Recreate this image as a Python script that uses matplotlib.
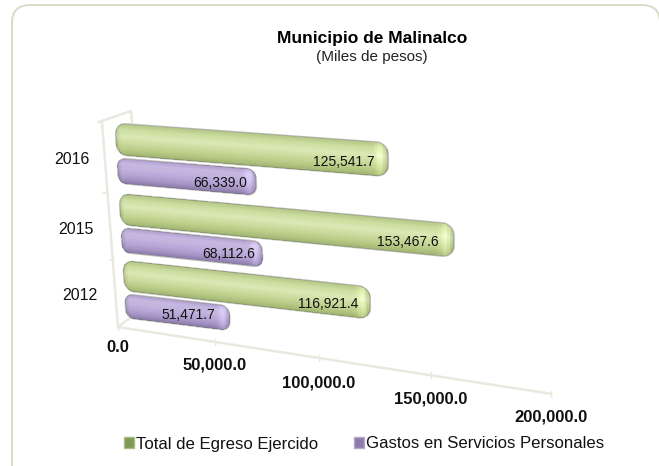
import numpy as np
import matplotlib
matplotlib.use("Agg")
import matplotlib.pyplot as plt
from matplotlib.patches import FancyBboxPatch, Patch
from matplotlib.path import Path
from matplotlib.transforms import Transform, Affine2D

plt.rcParams['font.family'] = ['Liberation Sans', 'DejaVu Sans']

# Data
years = ['2016', '2015', '2012']
total_egreso = [125541.7, 153467.6, 116921.4]
servicios_personales = [66339.0, 68112.6, 51471.7]
value_ticks = [0, 50000, 100000, 150000, 200000]
series_names = ['Total de Egreso Ejercido', 'Gastos en Servicios Personales']
title = 'Municipio de Malinalco'
subtitle = '(Miles de pesos)'

# Bar colours: profile across the bar, top to bottom
green_profile = np.array([[0.70, 0.77, 0.52], [0.80, 0.87, 0.63], [0.86, 0.91, 0.71],
                          [0.80, 0.86, 0.62], [0.73, 0.80, 0.53], [0.62, 0.70, 0.44]])
purple_profile = np.array([[0.68, 0.61, 0.80], [0.78, 0.72, 0.88], [0.76, 0.70, 0.87],
                           [0.72, 0.65, 0.84], [0.65, 0.58, 0.77], [0.53, 0.47, 0.65]])
FRAME = '#DADAC8'
WALL = '#E8E9DF'


class Persp(Transform):
    # Projective map from (value, slot) to picture pixels
    input_dims = 2
    output_dims = 2
    is_separable = False
    has_inverse = False

    def __init__(self, matrix):
        super().__init__()
        self.matrix = matrix

    def transform_non_affine(self, xy):
        xy = np.asarray(xy, dtype=float)
        h = np.column_stack([xy, np.ones(len(xy))]) @ self.matrix.T
        return h[:, :2] / h[:, 2:]


def fit_homography(src, dst):
    # Solve the 8 unknowns from 4 point pairs
    a = []
    b = []
    for (x, y), (u, v) in zip(src, dst):
        a.append([x, y, 1, 0, 0, 0, -u * x, -u * y])
        a.append([0, 0, 0, x, y, 1, -v * x, -v * y])
        b += [u, v]
    return np.append(np.linalg.solve(np.array(a), np.array(b)), 1).reshape(3, 3)


fig = plt.figure(figsize=(6.59, 4.66), dpi=100)
ax = fig.add_axes([0, 0, 1, 1])
ax.set_xlim(0, 659)
ax.set_ylim(466, 0)
ax.set_autoscale_on(False)
ax.axis('off')

ax.add_patch(FancyBboxPatch((30, 23), 612, 460, boxstyle='round,pad=18,rounding_size=18',
                            fc='white', ec=FRAME, lw=1.4))

# Plane of the bars and line of the value axis
bar_matrix = fit_homography([(0, 124), (0, 317), (150000, 124), (150000, 317)],
                            [(115, 124), (126, 317), (446, 148), (446, 356)])
axis_matrix = np.array([[179.7e-5, 0, 118], [7.1e-5, 1, 327], [-0.0668e-5, 0, 1]])
bar_tr = Persp(bar_matrix) + ax.transData
axis_tr = Persp(axis_matrix) + ax.transData

# Chart walls
ax.plot([102, 118, 130], [122, 327, 318], color=WALL, lw=1.8, zorder=1)
ax.plot([99, 131, 132], [122, 111, 122], color=WALL, lw=1.8, zorder=1)
ax.plot([103, 108], [193, 193], color=WALL, lw=1.2, zorder=1)
ax.plot([110, 114], [260, 260], color=WALL, lw=1.2, zorder=1)

# Value axis
ax.plot(value_ticks, [0] * len(value_ticks), color=WALL, lw=1.8, transform=axis_tr, zorder=1)
label_drop = [20, 23, 25, 24, 23]
for v, drop in zip(value_ticks, label_drop):
    ax.plot([v, v], [-2.5, 2.5], color=WALL, lw=1, transform=axis_tr, zorder=1)
    ax.text(v, 0, format(v, ',.1f'), ha='center', va='center', fontsize=12, fontweight='bold',
            color='#111111', transform=axis_tr + Affine2D().translate(0, -drop))


def rounded_outline(val, top, bottom, r_v, r_s):
    t = np.linspace(0, np.pi / 2, 10)
    xs = np.concatenate([r_v - r_v * np.cos(t), val - r_v + r_v * np.sin(t),
                         val - r_v + r_v * np.cos(t), r_v - r_v * np.sin(t)])
    ys = np.concatenate([top + r_s - r_s * np.sin(t), top + r_s - r_s * np.cos(t),
                         bottom - r_s + r_s * np.sin(t), bottom - r_s + r_s * np.cos(t)])
    return np.column_stack([xs, ys])


def draw_bar(val, top, bottom, profile, z, radius):
    xe = np.linspace(0, val, 160)
    ye = np.linspace(top, bottom, 40)
    xc = (xe[:-1] + xe[1:]) / 2
    yc = (ye[:-1] + ye[1:]) / 2
    pos = (yc - top) / (bottom - top)
    stops = np.linspace(0, 1, len(profile))
    rgb = np.column_stack([np.interp(pos, stops, profile[:, i]) for i in range(3)])
    rgb = np.repeat(rgb[:, None, :], len(xc), axis=1)
    # Lighter patch close to the right end, darker rim at both ends
    px = xc * 2.15e-3
    end = px[-1] - px
    glow = 0.09 * np.exp(-((end - 7) / 4.5) ** 2)
    rim = np.clip(np.minimum(px, end) / 5.0, 0, 1) * 0.13 + 0.87
    rgb = np.clip((rgb + glow[None, :, None]) * rim[None, :, None], 0, 1)
    mesh = ax.pcolormesh(xe, ye, rgb, transform=bar_tr, zorder=z, shading='flat')
    outline = rounded_outline(val, top, bottom, radius / 2.15e-3, radius)
    mesh.set_clip_path(Path(np.vstack([outline, outline[:1]]), closed=True), bar_tr)
    ax.fill(outline[:, 0], outline[:, 1], fc='none', ec=(0.42, 0.42, 0.38, 0.45), lw=0.9,
            transform=bar_tr, zorder=z + 0.1)


slot_mid = [153, 222, 289]
green_shift = [-14, -16, -12]
purple_shift = [-9, -7, -15]
green_lift = [-2, -1, 0]
purple_lift = [-1, 0, 3]
for i, year in enumerate(years):
    mid = slot_mid[i]
    draw_bar(total_egreso[i], mid - 30, mid + 1, green_profile, 3, 11)
    draw_bar(servicios_personales[i], mid + 4, mid + 29, purple_profile, 2, 9)
    ax.text(total_egreso[i], mid - 14, format(total_egreso[i], ',.1f'), ha='right', va='center',
            fontsize=10, color='#111111', zorder=5,
            transform=bar_tr + Affine2D().translate(green_shift[i], green_lift[i]))
    ax.text(servicios_personales[i], mid + 16, format(servicios_personales[i], ',.1f'), ha='right',
            va='center', fontsize=10, color='#111111', zorder=5,
            transform=bar_tr + Affine2D().translate(purple_shift[i], purple_lift[i]))
    ax.text(0, mid, year, ha='center', va='center', fontsize=11.5, color='#111111',
            transform=bar_tr + Affine2D().translate(-45, -6))

# Titles
ax.text(372, 38, title, ha='center', va='center', fontsize=12.5, fontweight='bold', color='black')
ax.text(372, 57, subtitle, ha='center', va='center', fontsize=11, color='#222222')

# Legend
handles = [Patch(fc='#7F9A55', ec='#A9BC8A'), Patch(fc='#8E7BAE', ec='#B5A8CC')]
ax.legend(handles, series_names, loc='center', bbox_to_anchor=(364, 444),
          bbox_transform=ax.transData, ncol=2, frameon=False, fontsize=12.1, handlelength=0.6,
          handleheight=0.6, handletextpad=0.15, columnspacing=2.1, labelcolor='#111111')

fig.savefig('out.png', dpi=100)
